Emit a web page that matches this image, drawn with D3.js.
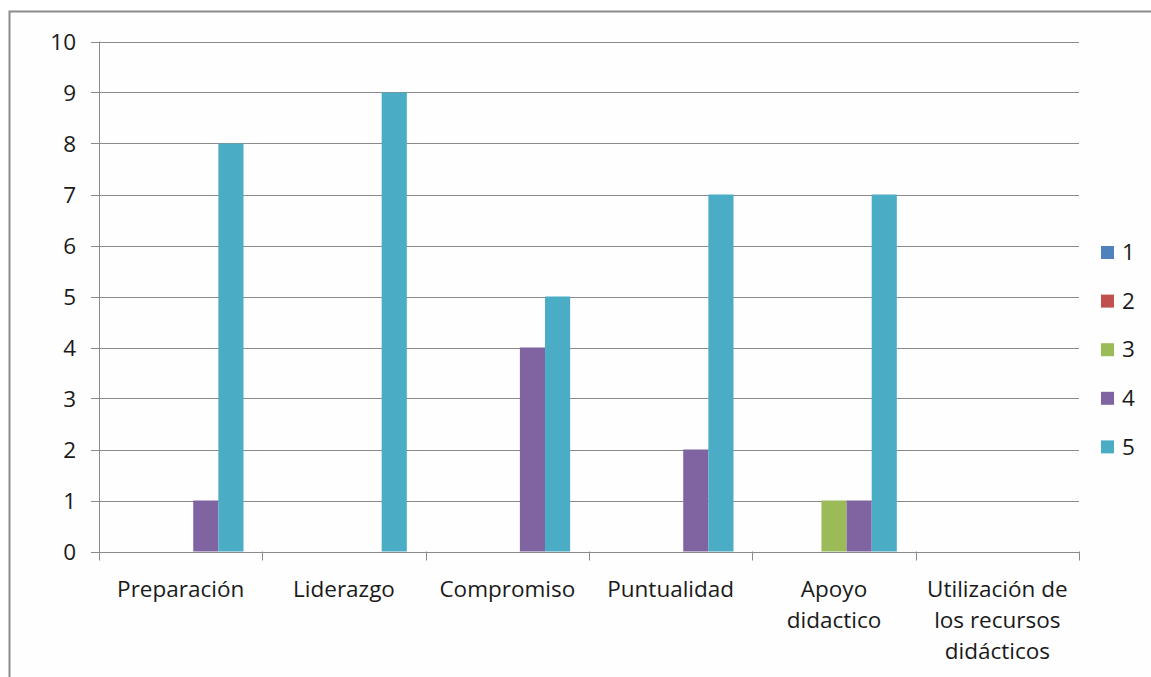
<!DOCTYPE html>
<html><head><meta charset="utf-8">
<script src="https://cdn.jsdelivr.net/npm/d3@7"></script>
<style>html,body{margin:0;padding:0;background:#fff;overflow:hidden}</style>
</head><body>
<svg id="c" width="1151" height="677"></svg>
<script>
const categories = [["Preparación"],["Liderazgo"],["Compromiso"],["Puntualidad"],["Apoyo","didactico"],["Utilización de","los recursos","didácticos"]];
const seriesNames = ["1","2","3","4","5"];
const s1 = [0,0,0,0,0,0];
const s2 = [0,0,0,0,0,0];
const s3 = [0,0,0,0,1,0];
const s4 = [1,0,4,2,1,0];
const s5 = [8,9,5,7,7,0];
const yTicks = [0,1,2,3,4,5,6,7,8,9,10];
const colors = ["#4F81BD","#C0504D","#9BBB59","#8064A2","#4BACC6"];
const series = [s1,s2,s3,s4,s5];

const svg = d3.select("#c");
const font = "'Open Sans', sans-serif";
const fs = 22.5;
svg.append("rect").attr("x",0).attr("y",0).attr("width",1151).attr("height",677).attr("fill","#fff");
svg.append("rect").attr("x",9.5).attr("y",11.5).attr("width",1160).attr("height",700)
  .attr("fill","#fefefe").attr("stroke","#8c8c8c").attr("stroke-width",2);

const x0 = 99, x1 = 1079, yTop = 41.5, yBot = 551.5;
const x = d3.scaleBand().domain(d3.range(categories.length)).range([x0,x1]).paddingInner(0).paddingOuter(0);
const y = d3.scaleLinear().domain([0,10]).range([yBot,yTop]);
const bw = x.bandwidth()/(seriesNames.length+1.5);
const xs = d3.scaleBand().domain(d3.range(seriesNames.length)).range([0.75*bw, 0.75*bw + bw*seriesNames.length]);

// grid
svg.append("g").selectAll("line").data(yTicks).join("line")
  .attr("x1",x0-8).attr("x2",x1).attr("y1",d=>Math.round(y(d))+0.5).attr("y2",d=>Math.round(y(d))+0.5)
  .attr("stroke","#8a8a8a").attr("stroke-width",1);
// y axis line
svg.append("line").attr("x1",x0+0.5).attr("x2",x0+0.5).attr("y1",yTop).attr("y2",yBot+1).attr("stroke","#8a8a8a");
// y labels
svg.append("g").selectAll("text").data(yTicks).join("text")
  .attr("x",76).attr("y",d=>y(d)).attr("dy","0.36em").attr("text-anchor","end")
  .attr("font-family",font).attr("font-size",fs).attr("fill","#1a1a1a").text(d=>d);
// x ticks
svg.append("g").selectAll("line").data(d3.range(categories.length+1)).join("line")
  .attr("x1",d=>Math.round(x0+d*x.bandwidth())+0.5).attr("x2",d=>Math.round(x0+d*x.bandwidth())+0.5)
  .attr("y1",yBot).attr("y2",yBot+9).attr("stroke","#8a8a8a");
// bars
series.forEach((s,si)=>{
  svg.append("g").selectAll("rect").data(s).join("rect")
    .attr("x",(d,i)=>x(i)+xs(si)).attr("width",xs.bandwidth())
    .attr("y",d=>y(d)).attr("height",d=>yBot-y(d)).attr("fill",colors[si]);
});
// x labels
const xl = svg.append("g").selectAll("text").data(categories).join("text")
  .attr("x",(d,i)=>x(i)+x.bandwidth()/2).attr("y",597)
  .attr("text-anchor","middle").attr("font-family",font).attr("font-size",fs).attr("fill","#1a1a1a");
xl.each(function(d){
  const t = d3.select(this);
  d.forEach((ln,k)=>t.append("tspan").attr("x",t.attr("x")).attr("dy",k===0?0:31).text(ln));
});
// legend
const lg = svg.append("g").selectAll("g").data(seriesNames).join("g")
  .attr("transform",(d,i)=>`translate(1101,${252+i*48.6})`);
lg.append("rect").attr("x",0).attr("y",-6).attr("width",13).attr("height",13).attr("fill",(d,i)=>colors[i]);
lg.append("text").attr("x",21).attr("y",0).attr("dy","0.36em").attr("font-family",font).attr("font-size",fs).attr("fill","#1a1a1a").text(d=>d);
</script>
</body></html>
